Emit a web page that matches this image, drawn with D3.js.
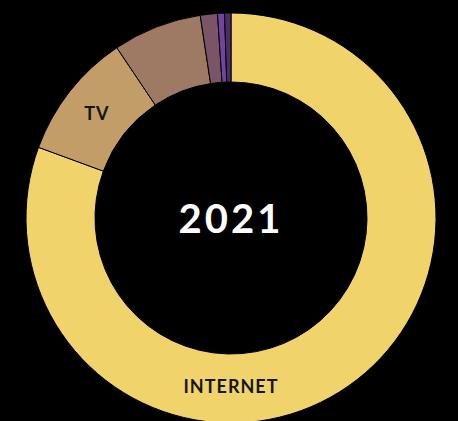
<!DOCTYPE html>
<html>
<head>
<meta charset="utf-8">
<script src="https://cdn.jsdelivr.net/npm/d3@7"></script>
<style>
  html, body { margin: 0; padding: 0; background: #000; }
  svg { display: block; }
</style>
</head>
<body>
<svg id="chart" width="458" height="421"></svg>
<script>
// Media share, 2021 (percent of total)
const categories = ["Internet", "TV", "Print", "Radio", "Outdoor", "Cinema"];
const shares = [80.6, 10.0, 7.0, 1.35, 0.55, 0.5];
const colors = ["#F0D36A", "#C29D68", "#9E7964", "#7B5467", "#6F45A0", "#4B2D6C"];
const sliceLabels = ["INTERNET", "TV", "", "", "", ""];
const centerLabel = "2021";

const svg = d3.select("#chart");
const cx = 231, cy = 218;
const outerR = 205, innerR = 136;

const g = svg.append("g").attr("transform", `translate(${cx},${cy})`);

const data = categories.map((c, i) => ({ name: c, value: shares[i], color: colors[i], label: sliceLabels[i] }));

const pie = d3.pie().value(d => d.value).sort(null);
const arc = d3.arc().innerRadius(innerR).outerRadius(outerR);
const bottomLabelArc = d3.arc().innerRadius(innerR).outerRadius(outerR - 6);
const arcs = pie(data);

g.selectAll("path.slice")
  .data(arcs)
  .join("path")
  .attr("class", "slice")
  .attr("d", arc)
  .attr("fill", d => d.data.color)
  .attr("stroke", "#000")
  .attr("stroke-width", 1);

// Labels: the large slice is labelled at the bottom of the ring, others at their centroid
const labelPos = d => {
  if (d.endAngle - d.startAngle > Math.PI) {
    return bottomLabelArc.centroid({ startAngle: Math.PI - 0.02, endAngle: Math.PI + 0.02 });
  }
  return arc.centroid(d);
};

g.selectAll("text.slice-label")
  .data(arcs.filter(d => d.data.label))
  .join("text")
  .attr("class", "slice-label")
  .attr("transform", d => { const p = labelPos(d); return `translate(${p[0]},${p[1]})`; })
  .attr("text-anchor", "middle")
  .attr("dominant-baseline", "central")
  .attr("font-family", "Lato, sans-serif")
  .attr("font-weight", 700)
  .attr("font-size", 18)
  .attr("letter-spacing", 1)
  .attr("fill", "#151515")
  .text(d => d.data.label);

g.append("text")
  .attr("text-anchor", "middle")
  .attr("dominant-baseline", "central")
  .attr("font-family", "Lato, sans-serif")
  .attr("font-weight", 700)
  .attr("font-size", 40)
  .attr("letter-spacing", 3)
  .attr("fill", "#fff")
  .text(centerLabel);
</script>
</body>
</html>
